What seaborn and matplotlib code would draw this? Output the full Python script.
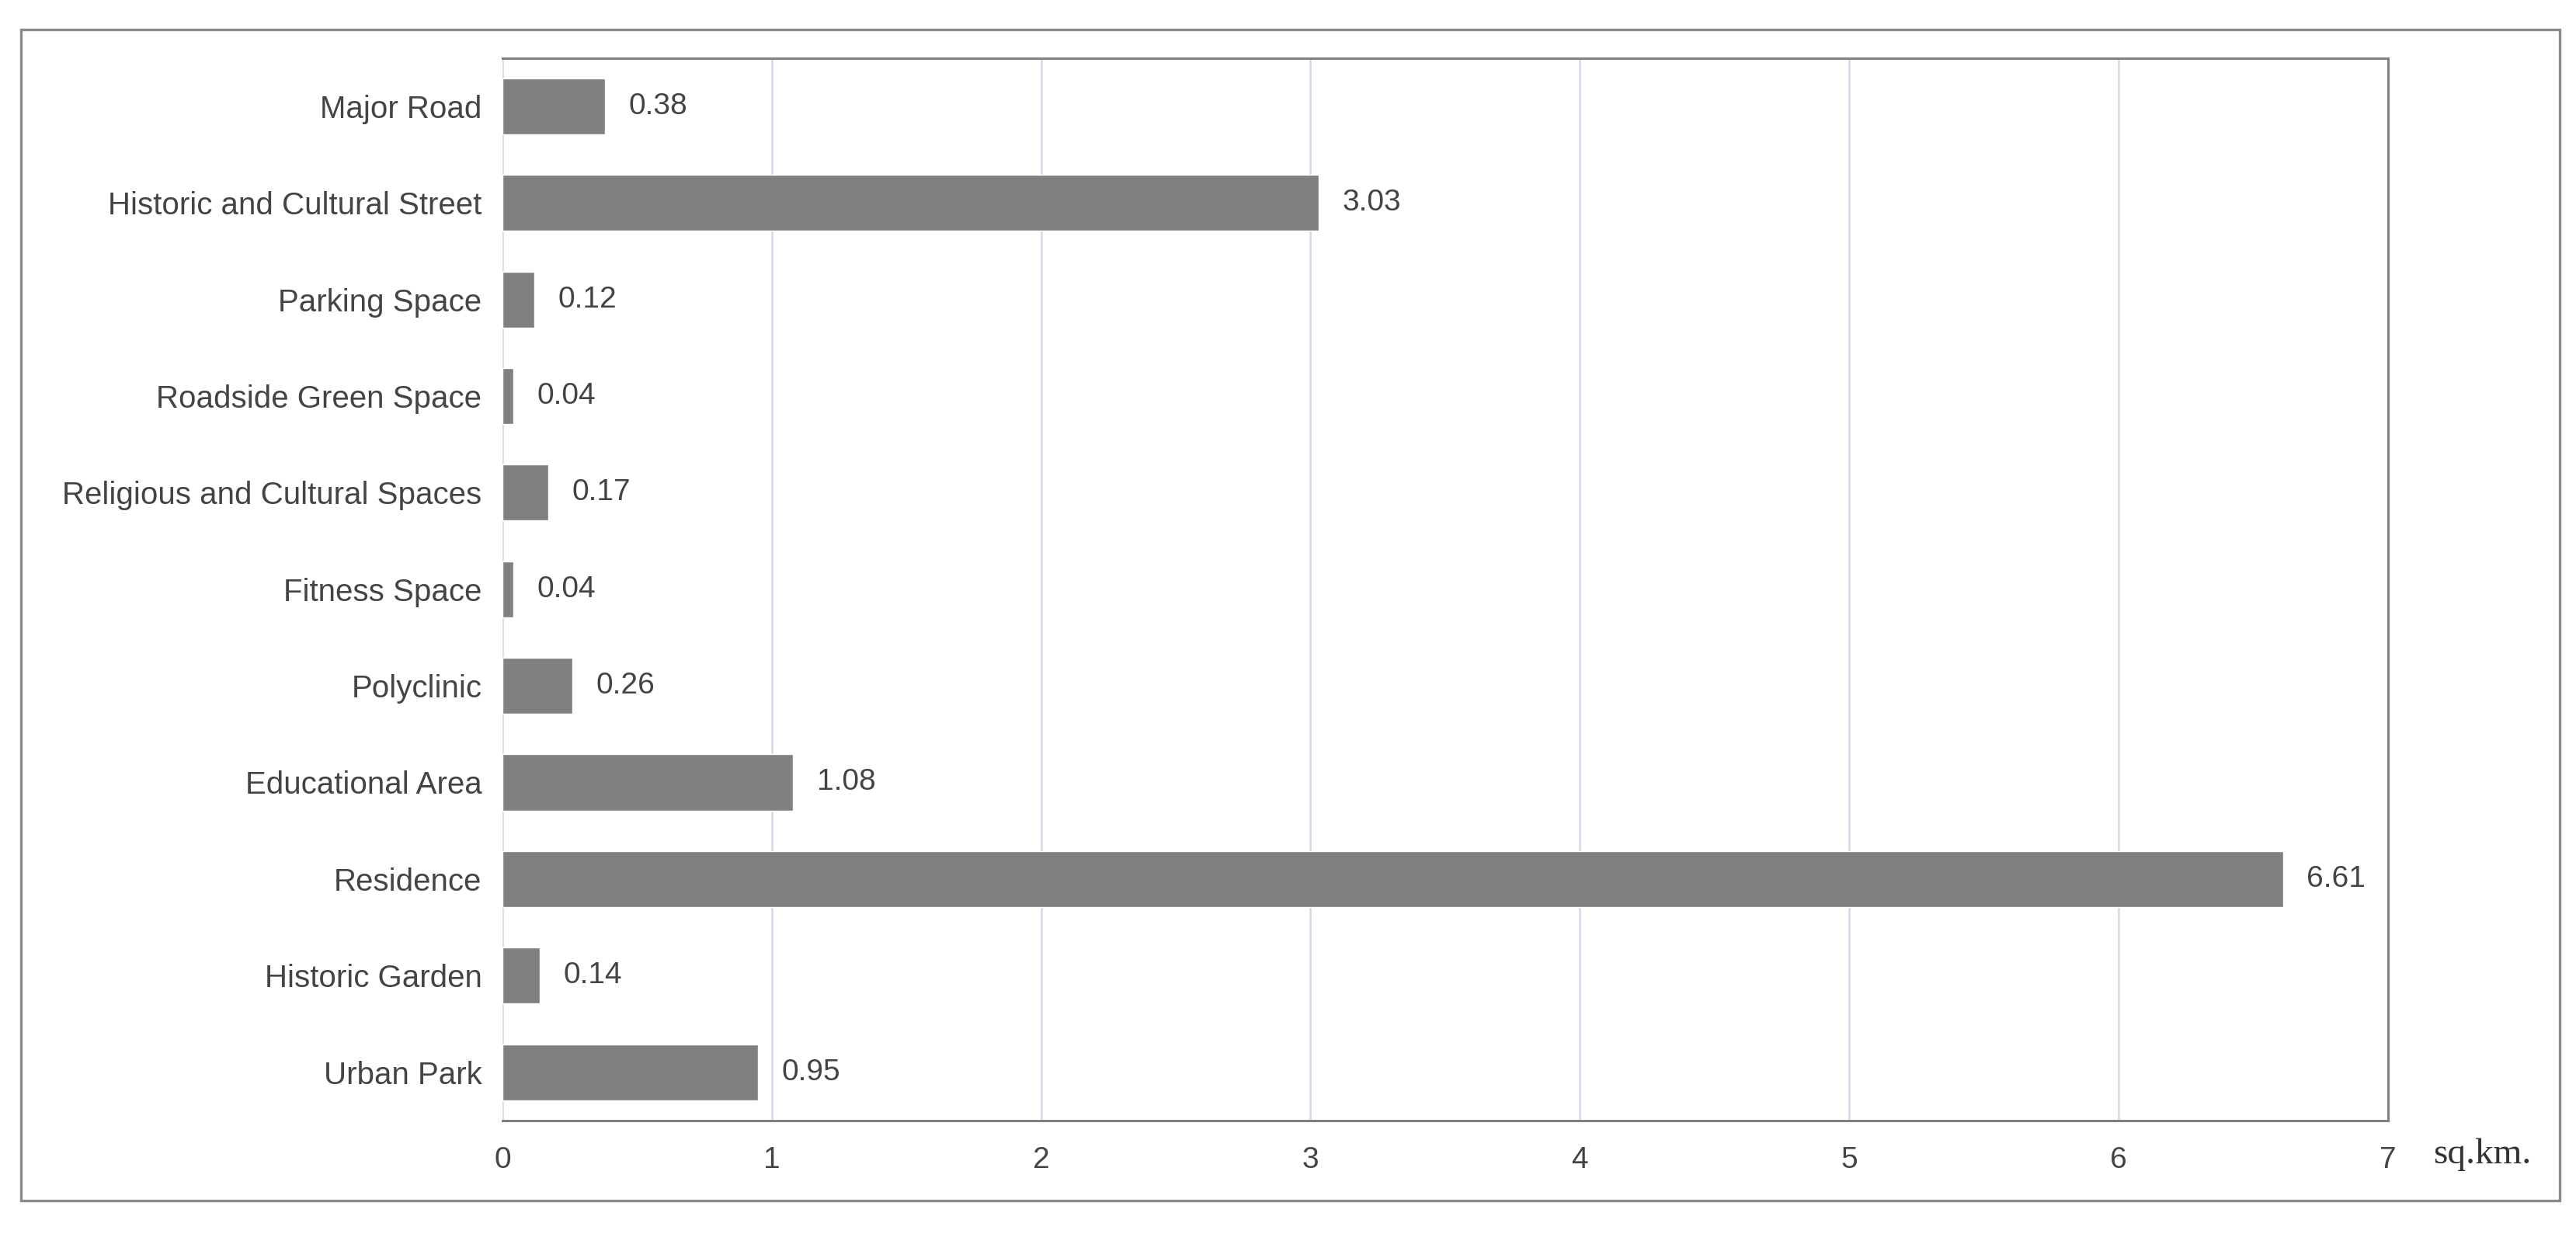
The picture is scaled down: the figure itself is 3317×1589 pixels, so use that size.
"""
Area of public space types (sq.km.) - horizontal bar chart
"""

import matplotlib
matplotlib.use('Agg')
import matplotlib.pyplot as plt
from matplotlib.patches import Rectangle
import seaborn as sns
import pandas as pd

# Data
categories = [
    'Major Road', 'Historic and Cultural Street', 'Parking Space',
    'Roadside Green Space', 'Religious and Cultural Spaces', 'Fitness Space',
    'Polyclinic', 'Educational Area', 'Residence', 'Historic Garden', 'Urban Park'
]
areas = [0.38, 3.03, 0.12, 0.04, 0.17, 0.04, 0.26, 1.08, 6.61, 0.14, 0.95]
x_ticks = [0, 1, 2, 3, 4, 5, 6, 7]
unit_label = 'sq.km.'

df = pd.DataFrame({'category': categories, 'area': areas})

sns.set_theme(style='white')
plt.rcParams['font.family'] = ['Liberation Sans', 'DejaVu Sans']

text_color = '#444444'
frame_color = '#808080'

fig = plt.figure(figsize=(33.17, 15.89), dpi=100)
ax = fig.add_axes([0.195, 0.092, 0.732, 0.861])

sns.barplot(data=df, x='area', y='category', orient='h', color='#808080',
            saturation=1, width=0.58, ax=ax, zorder=3)

# Value labels
ax.bar_label(ax.containers[0], labels=[f'{v:.2f}' for v in areas],
             padding=22, fontsize=28, color=text_color)

ax.set_xlim(0, 7)
ax.set_ylim(10.5, -0.5)
ax.set_xticks(x_ticks)
ax.set_xticklabels([str(t) for t in x_ticks])
ax.set_xlabel('')
ax.set_ylabel('')
ax.tick_params(axis='x', length=0, pad=24, labelsize=28, labelcolor=text_color)
ax.tick_params(axis='y', length=0, pad=19, labelsize=29, labelcolor=text_color)

# Grid
ax.grid(axis='x', color='#d5dde8', linewidth=2, zorder=0)
ax.grid(axis='y', visible=False)

for side in ['top', 'right', 'bottom']:
    ax.spines[side].set_color(frame_color)
    ax.spines[side].set_linewidth(2.2)
ax.spines['left'].set_visible(False)

# Unit label
fig.text(0.9445, 0.0642, unit_label, fontsize=34, color='#333333',
         family=['Liberation Serif', 'DejaVu Serif'], ha='left', va='center')

# Outer border
fig.patches.append(Rectangle((0.008, 0.027), 0.9857, 0.949, transform=fig.transFigure,
                             fill=False, edgecolor='#8a8a8a', linewidth=2.4))

fig.savefig('out.png', dpi=100)
plt.close()
